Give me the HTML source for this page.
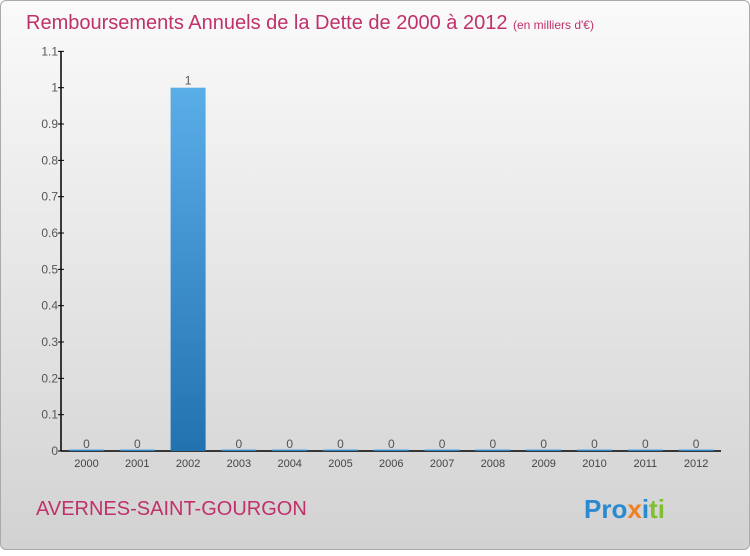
<!DOCTYPE html>
<html><head><meta charset="utf-8"><style>
body{margin:0;width:750px;height:550px;overflow:hidden;font-family:"Liberation Sans",sans-serif}
#wrap{position:absolute;left:0;top:0;width:748px;height:548px;border:1px solid #aaa;border-radius:6px;background:linear-gradient(#fafafa,#d2d2d2)}
</style></head><body>
<div id="wrap">
<svg width="750" height="550">
<defs><linearGradient id="bg" x1="0" y1="0" x2="0" y2="1"><stop offset="0" stop-color="#5aaee8"/><stop offset="1" stop-color="#2272b0"/></linearGradient></defs>
<text x="25" y="28" font-size="20" fill="#c0306a">Remboursements Annuels de la Dette de 2000 à 2012 <tspan font-size="12">(en milliers d'€)</tspan></text>
<g id="axes"></g><g id="bars"></g>
<text x="35" y="514" font-size="20" fill="#c0306a">AVERNES-SAINT-GOURGON</text>
<text x="583" y="517" font-size="26" font-weight="bold"><tspan fill="#2a8ad0">Pro</tspan><tspan fill="#f08020">x</tspan><tspan fill="#2a8ad0">i</tspan><tspan fill="#80c030">ti</tspan></text>
</svg></div>
<script>
const years=["2000","2001","2002","2003","2004","2005","2006","2007","2008","2009","2010","2011","2012"];
const values=[0,0,1,0,0,0,0,0,0,0,0,0,0];
const ticks=[0,0.1,0.2,0.3,0.4,0.5,0.6,0.7,0.8,0.9,1,1.1];
const NS="http://www.w3.org/2000/svg";
const y0=450,x0=60,scale=363.3,step=50.8,first=85.5,bw=35;
const yS=v=>y0-v*scale, xS=i=>first+i*step;
const ax=document.getElementById('axes'),bars=document.getElementById('bars');
function mk(t,a,p){const e=document.createElementNS(NS,t);for(const k in a)e.setAttribute(k,a[k]);p.appendChild(e);return e;}
let l=mk('line',{x1:x0,y1:yS(1.1),x2:x0,y2:y0,stroke:'#000','stroke-width':1.5},ax);


l=mk('line',{x1:x0,y1:y0,x2:720,y2:y0,stroke:'#000','stroke-width':1.5},ax);


ticks.forEach(t=>{
 const tk=mk('line',{x1:x0-3,x2:x0+3,y1:yS(t),y2:yS(t),stroke:'#000'},ax);
 
 
 const tx=mk('text',{x:x0-3,y:yS(t)+4,'font-size':12,fill:'#555','text-anchor':'end'},ax);
 tx.textContent=String(t);
 
 
});
years.forEach((yr,i)=>{
 const cx=xS(i),v=values[i],h=Math.max(v*scale,1.5);
 const r=mk('rect',{x:cx-bw/2,y:y0-h,width:bw,height:h,fill:'url(#bg)'},bars);
 
 
 const vt=mk('text',{x:cx,y:yS(v)-3,'font-size':12,fill:'#555','text-anchor':'middle'},bars);
 vt.textContent=String(v);
 
 
 const xt=mk('text',{x:cx,y:466,'font-size':11,fill:'#444','text-anchor':'middle'},ax);
 xt.textContent=yr;
 
 
});
</script>
</body></html>
